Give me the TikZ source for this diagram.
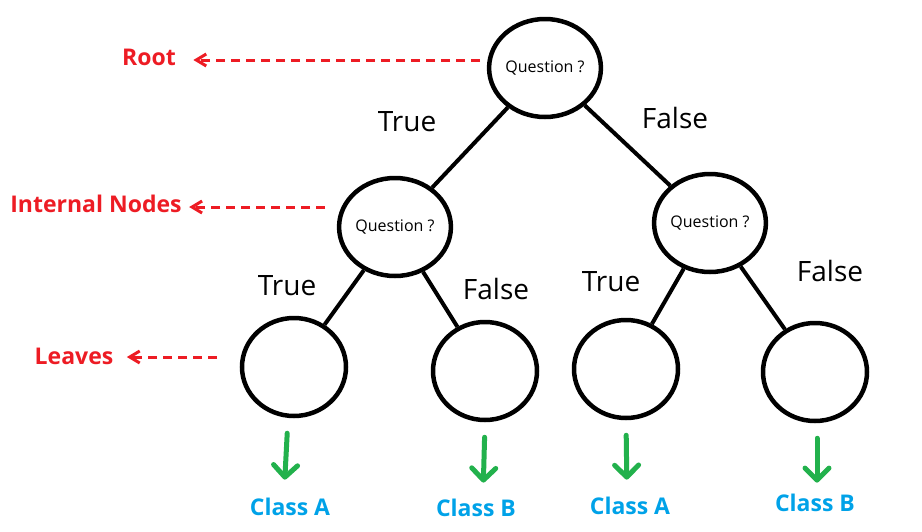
\documentclass[tikz,border=0pt]{standalone}
\usepackage{fontspec}
\setmainfont{Open Sans}
\usetikzlibrary{positioning,arrows.meta,shapes.geometric}
\definecolor{levelc}{RGB}{237,28,36}
\definecolor{outc}{RGB}{34,177,76}
\definecolor{classc}{RGB}{0,162,232}

\begin{document}
\begin{tikzpicture}[
  x=1pt, y=-1pt,
  qnode/.style={ellipse, draw, line width=4.5pt, minimum width=104pt,
    minimum height=98pt, inner sep=0pt, font=\fontsize{16}{19}\selectfont},
  branch/.style={line width=4pt},
  ans/.style={font=\fontsize{28}{32}\selectfont},
  lvl/.style={text=levelc, font=\bfseries\fontsize{23}{27}\selectfont},
  lvlarr/.style={draw=levelc, line width=3pt, dash pattern=on 9pt off 6pt,
    -{Straight Barb[length=10pt, width=12pt, line width=3pt]}},
  outarr/.style={draw=outc, line width=5pt, line cap=round,
    -{Straight Barb[length=12pt, width=24pt, line width=5pt, round]}},
  cls/.style={text=classc, font=\bfseries\fontsize{23}{27}\selectfont},
]
\useasboundingbox (0,0) rectangle (922,531);

% ---- tree nodes ----
\node[qnode] (root) at (545, 68) {Question ?};
\node[qnode] (inL)  at (395, 227) {Question ?};
\node[qnode] (inR)  at (710, 223) {Question ?};

\node[qnode] (leafLL) at (294, 367) {};
\node[qnode] (leafLR) at (485, 371) {};
\node[qnode] (leafRL) at (626, 369) {};
\node[qnode] (leafRR) at (815, 372) {};

% ---- branches ----
\draw[branch] (root) -- (inL);
\draw[branch] (root) -- (inR);
\draw[branch] (inL) -- (leafLL);
\draw[branch] (inL) -- (leafLR);
\draw[branch] (inR) -- (leafRL);
\draw[branch] (inR) -- (leafRR);

% ---- branch answers ----
\node[ans] (tRoot) at (407, 122) {True};
\node[ans] (fRoot) at (675, 118) {False};
\node[ans] (tInL)  at (287, 286) {True};
\node[ans] (fInL)  at (496, 289) {False};
\node[ans] (tInR)  at (611, 282) {True};
\node[ans] (fInR)  at (830, 271) {False};

% ---- level labels ----
\node[lvl] (rootlbl) at (149, 57) {Root};
\node[lvl] (intlbl)  at (96, 204) {Internal Nodes};
\node[lvl] (leaflbl) at (74, 356) {Leaves};

\coordinate (rootdash) at (480, 60);
\coordinate (intdash)  at (325, 207);
\coordinate (leafdash) at (217, 357);

\draw[lvlarr, shorten >=14pt] (rootdash) -- (rootlbl.east |- rootdash);
\draw[lvlarr, shorten >=4pt]  (intdash)  -- (intlbl.east |- intdash);
\draw[lvlarr, shorten >=10pt] (leafdash) -- (leaflbl.east |- leafdash);

% ---- classes ----
\node[cls] (clsLL) at (290, 507) {Class A};
\node[cls] (clsLR) at (476, 508) {Class B};
\node[cls] (clsRL) at (630, 506) {Class A};
\node[cls] (clsRR) at (815, 503) {Class B};

\draw[outarr, shorten <=15pt, shorten >=15pt]
  ([xshift=-6pt]leafLL.south) -- ([xshift=-6pt]clsLL.north);
\draw[outarr, shorten <=15pt, shorten >=13pt]
  (leafLR.south) -- ([xshift=7pt]clsLR.north);
\draw[outarr, shorten <=15pt, shorten >=14pt]
  (leafRL.south) -- ([xshift=-3pt]clsRL.north);
\draw[outarr, shorten <=15pt, shorten >=8pt]
  ([xshift=2pt]leafRR.south) -- ([xshift=2pt]clsRR.north);

\end{tikzpicture}
\end{document}
